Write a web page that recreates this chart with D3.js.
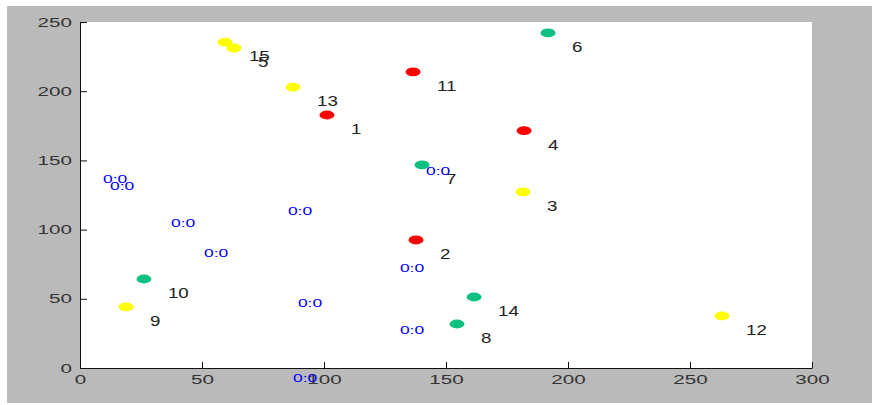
<!DOCTYPE html>
<html>
<head>
<meta charset="utf-8">
<title>labelled scatter</title>
<style>
    body { margin: 0; background: #fff; }
    text { font-family: "Liberation Sans", Arial, sans-serif; }
</style>
</head>
<body>
<script src="https://d3js.org/d3.v7.min.js"></script>
<script>
    var width = 872,
        height = 405,
        margin = {left: 80, right: 60, top: 22, bottom: 37};

    // numbered points
    var ids = [1, 2, 3, 4, 5, 6, 7, 8, 9, 10, 11, 12, 13, 14, 15];
    var xs = [101.2, 137.7, 181.6, 182.0, 63.1, 191.8, 140.2, 154.5, 18.9, 26.2, 136.5, 263.1, 87.3, 161.5, 59.4];
    var ys = [182.8, 92.5, 127.2, 171.5, 231.2, 242.1, 146.7, 31.8, 44.1, 64.3, 213.9, 37.6, 203.0, 51.3, 235.5];
    var groups = ['a', 'a', 'b', 'a', 'b', 'c', 'c', 'c', 'b', 'c', 'a', 'b', 'b', 'c', 'b'];

    // loose "0:0" labels
    var zeroX = [9.4, 12.3, 37.3, 50.8, 85.2, 131.1, 141.8, 89.3, 131.1, 87.3];
    var zeroY = [136.6, 131.5, 104.8, 83.1, 113.4, 72.3, 142.3, 47.0, 27.5, -7.2];

    var xTicks = [0, 50, 100, 150, 200, 250, 300],
        yTicks = [0, 50, 100, 150, 200, 250];

    var color = d3.scaleOrdinal()
        .domain(['a', 'b', 'c'])
        .range(['#ff0000', '#ffff00', '#10c080']);

    var svg = d3.select('body').append('svg')
        .attr('width', width)
        .attr('height', height);

    // figure background
    svg.append('rect')
        .attr('x', 7).attr('y', 6)
        .attr('width', width - 7).attr('height', height - 8)
        .attr('fill', '#bababa');

    var x = d3.scaleLinear().domain([0, 300]).range([margin.left, width - margin.right]);
    var y = d3.scaleLinear().domain([0, 250]).range([height - margin.bottom, margin.top]);

    svg.append('rect')
        .attr('x', x(0)).attr('y', y(250))
        .attr('width', x(300) - x(0)).attr('height', y(0) - y(250))
        .attr('fill', '#fff');

    var xAxis = svg.append('g')
        .attr('transform', 'translate(0,' + y(0) + ')')
        .call(d3.axisBottom(x).tickValues(xTicks).tickSizeInner(-6).tickSizeOuter(0).tickPadding(7));

    var yAxis = svg.append('g')
        .attr('transform', 'translate(' + x(0) + ',0)')
        .call(d3.axisLeft(y).tickValues(yTicks).tickSizeInner(-7).tickSizeOuter(0).tickPadding(8));

    [xAxis, yAxis].forEach(function (g) {
        g.select('.domain').attr('stroke', '#111');
        g.selectAll('.tick line').attr('stroke', '#111');
        g.selectAll('.tick text')
            .attr('fill', '#333')
            .style('font-size', '12.5px')
            .style('font-family', '"Liberation Sans", Arial, sans-serif');
    });

    // stretch tick labels sideways like the original
    xAxis.selectAll('.tick text').each(function () {
        var t = d3.select(this), ty = +t.attr('y');
        t.attr('y', 0).attr('transform', 'translate(0,' + ty + ') scale(1.65,1)');
    });
    yAxis.selectAll('.tick text').each(function () {
        var t = d3.select(this), tx = +t.attr('x');
        t.attr('x', 0).attr('transform', 'translate(' + tx + ',0) scale(1.65,1)');
    });

    var points = ids.map(function (id, i) {
        return {id: id, x: xs[i], y: ys[i], g: groups[i]};
    });

    svg.selectAll('ellipse')
        .data(points)
        .enter().append('ellipse')
        .attr('cx', function (d) { return x(d.x); })
        .attr('cy', function (d) { return y(d.y); })
        .attr('rx', 7.5)
        .attr('ry', 4.4)
        .attr('fill', function (d) { return color(d.g); });

    svg.selectAll('text.num')
        .data(points)
        .enter().append('text')
        .attr('class', 'num')
        .attr('transform', function (d) {
            return 'translate(' + (x(d.x) + 24) + ',' + (y(d.y) + 19) + ') scale(1.25,1)';
        })
        .attr('fill', '#222')
        .style('font-size', '15px')
        .text(function (d) { return d.id; });

    svg.selectAll('text.zero')
        .data(zeroX)
        .enter().append('text')
        .attr('class', 'zero')
        .attr('transform', function (d, i) {
            return 'translate(' + x(d) + ',' + (y(zeroY[i]) + 3.6) + ') scale(1.75,1)';
        })
        .attr('fill', '#0000ff')
        .style('font-size', '10px')
        .text('0:0');
</script>
</body>
</html>
